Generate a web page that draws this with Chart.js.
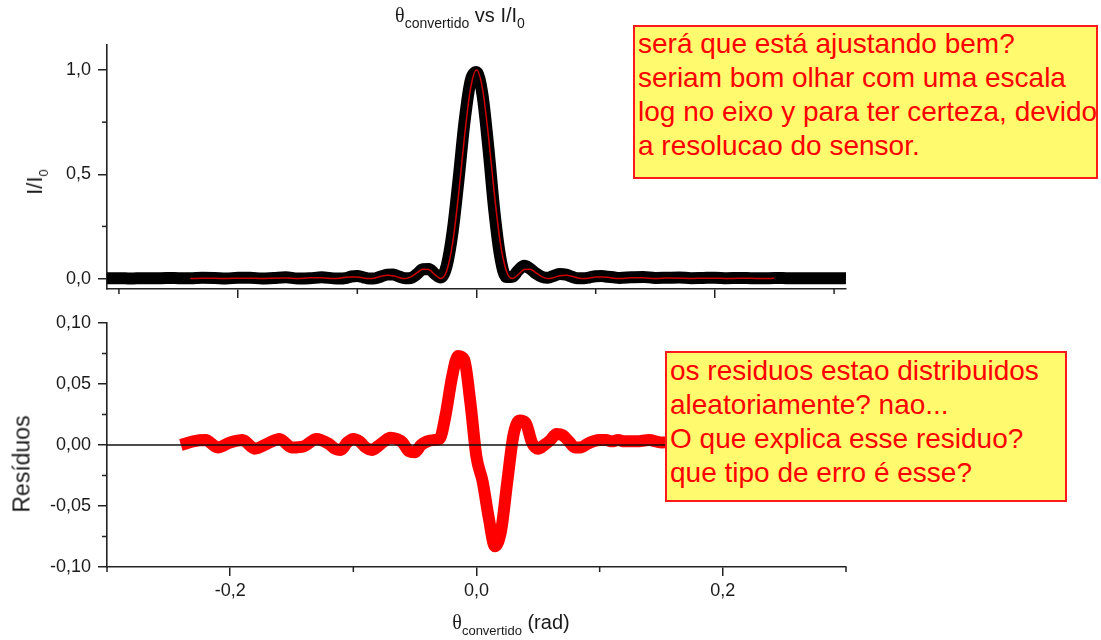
<!DOCTYPE html>
<html>
<head>
<meta charset="utf-8">
<script src="https://cdn.jsdelivr.net/npm/chart.js@4.4.0/dist/chart.umd.min.js"></script>
<style>
  body { margin: 0; background: #fff; }
  #stage { position: relative; width: 1101px; height: 640px; overflow: hidden;
           font-family: 'Liberation Sans', Arial, sans-serif; color: #1a1a1a; }
  canvas { position: absolute; left: 0; top: 0; }
  .txt { position: absolute; white-space: nowrap; }
  .theta { font-family: 'Liberation Serif', 'DejaVu Serif', serif; }
  .sub { font-size: 13px; position: relative; top: 6px; }
  .nota { position: absolute; background: #fffa6e; border: 2px solid #ff1a1a; color: #ff0000;
          font-size: 28px; line-height: 34px; padding: 0 3px; box-sizing: border-box; white-space: nowrap; }
</style>
</head>
<body>
<div id="stage">
  <canvas id="graficoIntensidade" width="1101" height="640"></canvas>
  <canvas id="graficoResiduos" width="1101" height="640"></canvas>

  <div class="txt" style="left:460px; top:4px; transform:translateX(-50%); font-size:20px;">
    <span class="theta">θ</span><span class="sub" style="font-size:14px;">convertido</span> vs I/I<span class="sub" style="font-size:14px;">0</span>
  </div>
  <div class="txt" style="left:35px; top:182px; transform:translate(-50%,-50%) rotate(-90deg); font-size:22px;">
    I/I<span class="sub">0</span>
  </div>
  <div class="txt" style="left:22px; top:464px; transform:translate(-50%,-50%) rotate(-90deg); font-size:23px;">
    Resíduos
  </div>
  <div class="txt" style="left:511px; top:611px; transform:translateX(-50%); font-size:20px;">
    <span class="theta">θ</span><span class="sub">convertido</span> (rad)
  </div>

  <div class="nota" style="left:633px; top:25px; width:465px; height:154px;">
    será que está ajustando bem?<br>
    seriam bom olhar com uma escala<br>
    log no eixo y para ter certeza, devido<br>
    a resolucao do sensor.
  </div>
  <div class="nota" style="left:665px; top:351px; width:402px; height:151px; padding-top:1px;">
    os residuos estao distribuidos<br>
    aleatoriamente? nao...<br>
    O que explica esse residuo?<br>
    que tipo de erro é esse?
  </div>
</div>

<script>
// ---- dados medidos (painel superior) ----
const thetaDados = [
  -0.31, -0.30, -0.29, -0.28, -0.27, -0.26, -0.25, -0.24, -0.23, -0.22, -0.21, -0.20, -0.19, -0.18, -0.17, -0.16, -0.15, -0.14, -0.13,
  -0.12, -0.115, -0.11, -0.105, -0.10, -0.095, -0.09, -0.085, -0.08, -0.075, -0.07, -0.065, -0.06, -0.055, -0.05, -0.045, -0.04, -0.035, -0.03, -0.025, -0.02, -0.015, -0.01, -0.005,
  0, 0.005, 0.01, 0.015, 0.02, 0.025, 0.03, 0.035, 0.04, 0.045, 0.05, 0.055, 0.06, 0.065, 0.07, 0.075, 0.08, 0.085, 0.09, 0.095, 0.10, 0.105, 0.11, 0.115, 0.12,
  0.13, 0.14, 0.15, 0.16, 0.17, 0.18, 0.19, 0.20, 0.21, 0.22, 0.23, 0.24, 0.25, 0.26, 0.27, 0.28, 0.29, 0.30, 0.31
];
const intensidade = [
  0.001, 0.002, 0.000, 0.002, 0.001, 0.003, 0.002, 0.001, 0.004, 0.003, 0.000, 0.004, 0.004, 0.000, 0.003, 0.006, 0.000, 0.001, 0.006,
  0.001, 0.000, 0.002, 0.010, 0.012, 0.006, 0.000, 0.001, 0.010, 0.019, 0.020, 0.010, 0.002, 0.003, 0.021, 0.045, 0.046, 0.023, 0.005, 0.062, 0.226, 0.478, 0.754, 0.947,
  0.990, 0.882, 0.624, 0.322, 0.101, 0.007, 0.008, 0.039, 0.061, 0.047, 0.024, 0.008, 0.004, 0.014, 0.022, 0.019, 0.009, 0.001, 0.001, 0.006, 0.011, 0.012, 0.009, 0.006, 0.003,
  0.006, 0.008, 0.003, 0.004, 0.005, 0.002, 0.003, 0.004, 0.002, 0.003, 0.002, 0.001, 0.003, 0.002, 0.001, 0.002, 0.001, 0.002, 0.001
];

// ---- ajuste e residuos ----
const thetaAjuste = [
  -0.24, -0.23, -0.22, -0.21, -0.20, -0.19, -0.18, -0.17, -0.16, -0.15, -0.14, -0.13,
  -0.12, -0.115, -0.11, -0.105, -0.10, -0.095, -0.09, -0.085, -0.08, -0.075, -0.07, -0.065, -0.06, -0.055, -0.05, -0.045, -0.04, -0.035, -0.03, -0.025, -0.02, -0.015, -0.01, -0.005,
  0, 0.005, 0.01, 0.015, 0.02, 0.025, 0.03, 0.035, 0.04, 0.045, 0.05, 0.055, 0.06, 0.065, 0.07, 0.075, 0.08, 0.085, 0.09, 0.095, 0.10, 0.105, 0.11, 0.115, 0.12,
  0.13, 0.14, 0.15, 0.16, 0.17, 0.18, 0.19, 0.20, 0.21, 0.22, 0.23, 0.24, 0.25
];
const ajuste = [
  0.000, 0.001, 0.001, 0.000, 0.002, 0.002, 0.000, 0.002, 0.003, 0.000, 0.004, 0.004,
  0.000, 0.002, 0.006, 0.008, 0.007, 0.003, 0.000, 0.003, 0.011, 0.016, 0.014, 0.005, 0.000, 0.008, 0.027, 0.045, 0.043, 0.019, 0.000, 0.037, 0.171, 0.405, 0.684, 0.912,
  1.000, 0.912, 0.684, 0.405, 0.171, 0.037, 0.000, 0.019, 0.043, 0.045, 0.027, 0.008, 0.000, 0.005, 0.014, 0.016, 0.011, 0.003, 0.000, 0.003, 0.007, 0.008, 0.006, 0.002, 0.000,
  0.004, 0.004, 0.000, 0.003, 0.002, 0.000, 0.002, 0.002, 0.000, 0.001, 0.001, 0.000, 0.001
];
const residuos = [
  0.000, 0.003, 0.004, -0.002, 0.002, 0.004, -0.003, 0.001, 0.005, -0.002, -0.001, 0.005,
  0.001, -0.003, -0.004, 0.002, 0.005, 0.003, -0.002, -0.004, -0.001, 0.003, 0.006, 0.005, 0.002, -0.005, -0.006, 0.000, 0.003, 0.004, 0.005, 0.025, 0.055, 0.073, 0.070, 0.035,
  -0.010, -0.030, -0.060, -0.083, -0.070, -0.030, 0.008, 0.020, 0.018, 0.002, -0.003, 0.000, 0.004, 0.009, 0.008, 0.003, -0.002, -0.002, 0.001, 0.003, 0.004, 0.004, 0.003, 0.004, 0.003,
  0.003, 0.004, 0.002, 0.003, 0.004, 0.001, 0.003, 0.004, 0.001, 0.003, 0.003, 0.001, 0.002
];

// ---- ticks ----
const ticksXMaiores = [-0.2, 0, 0.2];
const ticksXMenores = [-0.3, -0.1, 0.1, 0.3];
const ticksYIntensMaiores = [0, 0.5, 1.0];
const ticksYIntensMenores = [0.25, 0.75];
const ticksYResMaiores = [-0.10, -0.05, 0, 0.05, 0.10];
const ticksYResMenores = [-0.075, -0.025, 0.025, 0.075];

const COR_EIXO = "#222";
const FONTE = "'Liberation Sans', Arial, sans-serif";
Chart.defaults.font.family = FONTE;
Chart.defaults.color = "#1a1a1a";

const virgula = (v, d) => v.toFixed(d).replace(".", ",");
const pontos = (xs, ys) => xs.map((x, i) => ({ x, y: ys[i] }));

// traços menores para fora, estilo Origin
const minorTicks = {
  id: "minorTicks",
  afterDraw(chart, args, opts) {
    const { ctx, chartArea, scales } = chart;
    ctx.save();
    ctx.strokeStyle = COR_EIXO;
    ctx.lineWidth = 1.5;
    (opts.x || []).forEach((v) => {
      const px = scales.x.getPixelForValue(v);
      ctx.beginPath();
      ctx.moveTo(px, chartArea.bottom);
      ctx.lineTo(px, chartArea.bottom + 5);
      ctx.stroke();
    });
    (opts.y || []).forEach((v) => {
      const py = scales.y.getPixelForValue(v);
      ctx.beginPath();
      ctx.moveTo(chartArea.left, py);
      ctx.lineTo(chartArea.left - 5, py);
      ctx.stroke();
    });
    ctx.restore();
  },
};

function eixo(extra) {
  return Object.assign({
    type: "linear",
    grid: { drawOnChartArea: false, drawTicks: true, tickLength: 9, color: COR_EIXO, lineWidth: 1.5 },
    border: { display: true, color: COR_EIXO, width: 1.6 },
  }, extra);
}

new Chart(document.getElementById("graficoIntensidade"), {
  type: "scatter",
  data: {
    datasets: [
      {
        label: "Ajuste",
        data: pontos(thetaAjuste, ajuste),
        showLine: true,
        cubicInterpolationMode: "monotone",
        borderColor: "#d00000",
        borderWidth: 1.5,
        pointRadius: 0,
        order: 0,
      },
      {
        label: "Dados",
        data: pontos(thetaDados, intensidade),
        showLine: true,
        cubicInterpolationMode: "monotone",
        borderColor: "#000",
        borderWidth: 12,
        borderJoinStyle: "round",
        pointRadius: 0,
        order: 1,
      },
    ],
  },
  plugins: [minorTicks],
  options: {
    responsive: false,
    animation: false,
    devicePixelRatio: 1,
    layout: { padding: { left: 0, top: 45, right: 255, bottom: 331 } },
    plugins: {
      legend: { display: false },
      tooltip: { enabled: false },
      minorTicks: { x: ticksXMenores, y: ticksYIntensMenores },
    },
    scales: {
      x: eixo({
        min: -0.31, max: 0.31,
        ticks: { display: false },
        afterBuildTicks: (s) => { s.ticks = ticksXMaiores.map((v) => ({ value: v })); },
        afterFit: (s) => { s.height = 20; },
      }),
      y: eixo({
        min: -0.05, max: 1.12,
        ticks: { font: { size: 18 }, color: "#1a1a1a", padding: 7, callback: (v) => virgula(v, 1) },
        afterBuildTicks: (s) => { s.ticks = ticksYIntensMaiores.map((v) => ({ value: v })); },
        afterFit: (s) => { s.width = 107; },
      }),
    },
  },
});

new Chart(document.getElementById("graficoResiduos"), {
  type: "scatter",
  data: {
    datasets: [
      {
        label: "Zero",
        data: [{ x: -0.3, y: 0 }, { x: 0.3, y: 0 }],
        showLine: true,
        borderColor: "#111",
        borderWidth: 1.5,
        pointRadius: 0,
        order: 0,
      },
      {
        label: "Resíduos",
        data: pontos(thetaAjuste, residuos),
        showLine: true,
        cubicInterpolationMode: "monotone",
        borderColor: "#ff0000",
        borderWidth: 12,
        borderJoinStyle: "round",
        pointRadius: 0,
        order: 1,
      },
    ],
  },
  plugins: [minorTicks],
  options: {
    responsive: false,
    animation: false,
    devicePixelRatio: 1,
    layout: { padding: { left: 0, top: 323, right: 255, bottom: 23 } },
    plugins: {
      legend: { display: false },
      tooltip: { enabled: false },
      minorTicks: { x: ticksXMenores, y: ticksYResMenores },
    },
    scales: {
      x: eixo({
        min: -0.3, max: 0.3,
        ticks: { font: { size: 18 }, color: "#1a1a1a", padding: 4, callback: (v) => virgula(v, 1) },
        afterBuildTicks: (s) => { s.ticks = ticksXMaiores.map((v) => ({ value: v })); },
        afterFit: (s) => { s.height = 50; },
      }),
      y: eixo({
        min: -0.1, max: 0.1,
        ticks: { font: { size: 18 }, color: "#1a1a1a", padding: 7, callback: (v) => virgula(v, 2) },
        afterBuildTicks: (s) => { s.ticks = ticksYResMaiores.map((v) => ({ value: v })); },
        afterFit: (s) => { s.width = 107; },
      }),
    },
  },
});
</script>
</body>
</html>
